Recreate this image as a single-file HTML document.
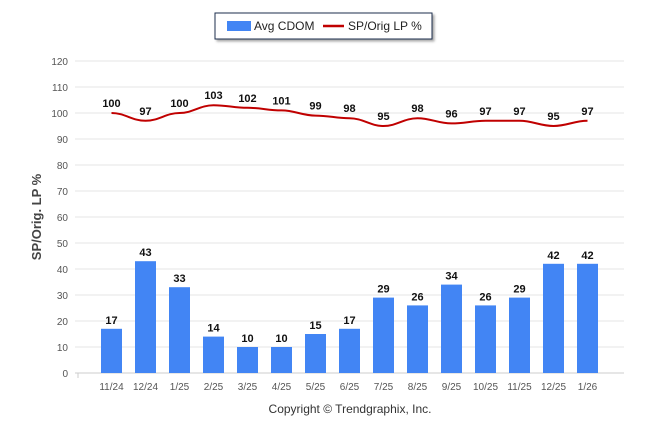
<!DOCTYPE html>
<html><head><meta charset="utf-8"><style>
body{margin:0;background:#fff;font-family:"Liberation Sans",Arial,sans-serif}
svg text{font-family:"Liberation Sans",Arial,sans-serif}
</style></head><body>
<svg id="c" width="646" height="434" xmlns="http://www.w3.org/2000/svg">
<defs><filter id="sh" x="-5%" y="-5%" width="115%" height="140%"><feDropShadow dx="2" dy="2" stdDeviation="1.2" flood-color="#000" flood-opacity="0.35"/></filter></defs>
<g>
<rect x="215" y="13" width="217" height="26" fill="#fff" stroke="#1f2d4d" stroke-width="1" filter="url(#sh)"/>
<rect x="227" y="21" width="24" height="10" fill="#4285f4"/>
<text x="254" y="30" font-size="12" fill="#222">Avg CDOM</text>
<line x1="323" y1="26" x2="344" y2="26" stroke="#c00000" stroke-width="2.5"/>
<text x="348" y="30" font-size="12" fill="#222">SP/Orig LP %</text>
</g>
<text transform="translate(41,217) rotate(-90)" text-anchor="middle" font-size="13" font-weight="bold" fill="#444">SP/Orig. LP %</text>
<text x="350" y="413" text-anchor="middle" font-size="12" fill="#333">Copyright © Trendgraphix, Inc.</text>
<g id="grid"></g><g id="bars"></g><g id="line"></g><g id="labels"></g>
</svg>
<script>
const categories=["11/24","12/24","1/25","2/25","3/25","4/25","5/25","6/25","7/25","8/25","9/25","10/25","11/25","12/25","1/26"];
const cdom=[17,43,33,14,10,10,15,17,29,26,34,26,29,42,42];
const sporig=[100,97,100,103,102,101,99,98,95,98,96,97,97,95,97];
const yTicks=[0,10,20,30,40,50,60,70,80,90,100,110,120];
const NS="http://www.w3.org/2000/svg";
const y0=373,y1=61,left=94.5,band=34;
function y(v){return y0-(v/120)*(y0-y1);}
function x(i){return left+band*(i+0.5);}
function mk(t,a,p){const e=document.createElementNS(NS,t);for(const k in a)e.setAttribute(k,a[k]);p.appendChild(e);return e;}
const g=document.getElementById('grid'),b=document.getElementById('bars'),l=document.getElementById('line'),lb=document.getElementById('labels');
yTicks.forEach(v=>{
 const ln=mk('line',{x1:75,x2:624,y1:y(v),y2:y(v),stroke:v===0?'#ccc':'#e6e6e6','stroke-width':1},g);
 
 
 const t=mk('text',{x:68,y:y(v)+4,'text-anchor':'end','font-size':10,fill:'#555'},g);t.textContent=v;
 
 
});
mk('line',{x1:78,x2:78,y1:y0,y2:y0+5,stroke:'#ccc'},g);
categories.forEach((c,i)=>{
 const r=mk('rect',{x:x(i)-10.5,y:y(cdom[i]),width:21,height:y0-y(cdom[i]),fill:'#4285f4'},b);
 
 
 const t=mk('text',{x:x(i),y:y(cdom[i])-5,'text-anchor':'middle','font-size':11,'font-weight':'bold',fill:'#111'},lb);t.textContent=cdom[i];
 
 
 const xt=mk('text',{x:x(i),y:390,'text-anchor':'middle','font-size':10,fill:'#555'},g);xt.textContent=c;
 
 
 const pt=mk('text',{x:x(i),y:y(sporig[i])-6,'text-anchor':'middle','font-size':11,'font-weight':'bold',fill:'#111'},lb);pt.textContent=sporig[i];
 
 
});
let d='';const P=sporig.map((v,i)=>[x(i),y(v)]);
d='M'+P[0][0]+','+P[0][1];
for(let i=0;i<P.length-1;i++){const [ax,ay]=P[i],[bx,by]=P[i+1];const dx=(bx-ax)/2.5;d+=` C${ax+dx},${ay} ${bx-dx},${by} ${bx},${by}`;}
const path=mk('path',{d:d,fill:'none',stroke:'#c00000','stroke-width':2},l);


</script>
</body></html>
